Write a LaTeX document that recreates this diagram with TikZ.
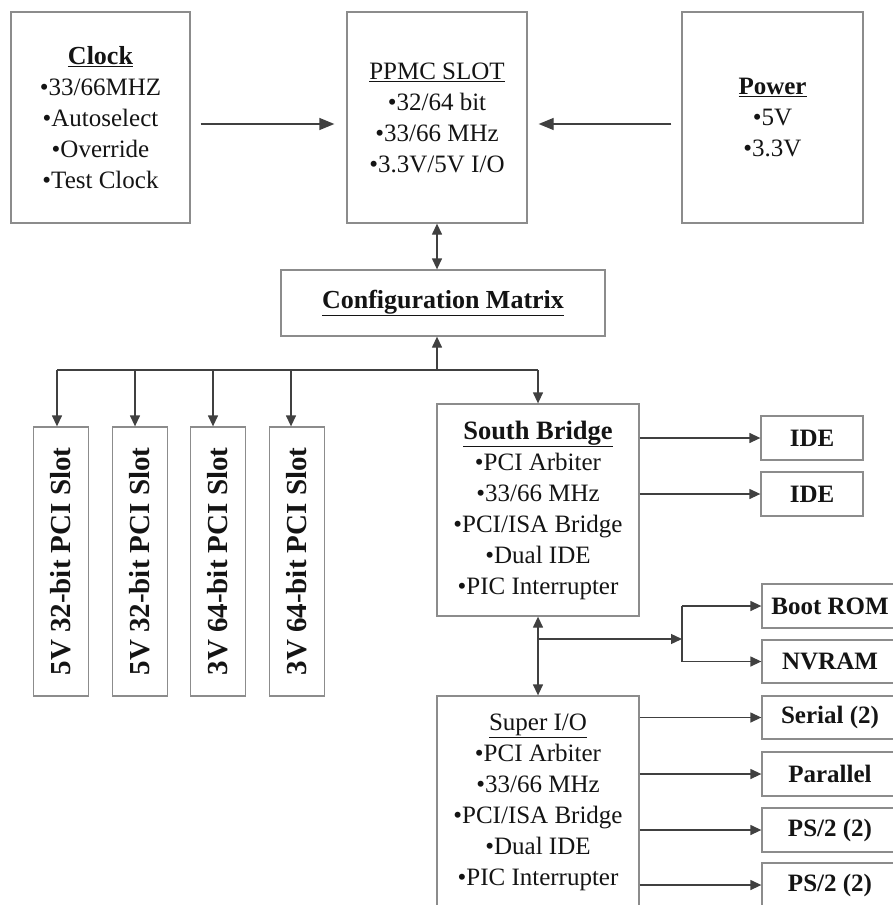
\documentclass[tikz,border=0pt]{standalone}
\usepackage{fontspec}
\setmainfont{Liberation Serif}
\usepackage{graphicx}
\usetikzlibrary{arrows.meta,calc}
\definecolor{boxgray}{gray}{0.55}
\definecolor{linegray}{gray}{0.25}
\definecolor{txt}{gray}{0.08}
\begin{document}
\begin{tikzpicture}[x=1pt,y=-1pt,
  box/.style={draw=boxgray,line width=1.3pt,inner sep=0pt,align=center,text=txt,
    font=\fontsize{25}{31}\selectfont},
  sbox/.style={box,font=\fontsize{25}{31}\selectfont\bfseries},
  conn/.style={draw=linegray,line width=1.3pt},
  arr/.style={conn,-{Triangle[length=11pt,width=10pt]}},
  arrbig/.style={conn,-{Triangle[length=15pt,width=12pt]}},
  darr/.style={conn,{Triangle[length=11pt,width=10pt]}-{Triangle[length=11pt,width=10pt]}}]
\useasboundingbox (0,0) rectangle (893,905);
\fill[white] (0,0) rectangle (893,905);
\clip (0,0) rectangle (893,905);

% top row
\node[box,minimum width=179pt,minimum height=211pt] (clock) at (100.5,117.5)
  {\underline{\textbf{\fontsize{26}{31}\selectfont Clock}}\\•33/66MHZ\\•Autoselect\\•Override\\•Test Clock};
\node[box,minimum width=180pt,minimum height=211pt] (ppmc) at (437,117.5)
  {\underline{PPMC SLOT}\\•32/64 bit\\•33/66 MHz\\•3.3V/5V I/O};
\node[box,minimum width=181pt,minimum height=211pt] (power) at (772.5,117.5)
  {\underline{\textbf{Power}}\\•5V\\•3.3V};

% configuration matrix
\node[sbox,minimum width=324pt,minimum height=66pt,font=\fontsize{26}{31}\selectfont\bfseries] (config) at (443,303)
  {\underline{Configuration Matrix}};

% PCI slots
\foreach \n/\x/\t in {s1/61/5V 32-bit PCI Slot,s2/140/5V 32-bit PCI Slot,
                      s3/218/3V 64-bit PCI Slot,s4/297/3V 64-bit PCI Slot}{
  \node[box,minimum width=55pt,minimum height=269pt,
        font=\fontsize{29}{31}\selectfont\bfseries] (\n) at (\x,561.5)
    {\rotatebox{90}{\t}};
}

% south bridge and super I/O
\node[box,minimum width=202pt,minimum height=212pt] (sb) at (538,510)
  {\underline{\textbf{\fontsize{26.5}{31}\selectfont South Bridge}}\\•PCI Arbiter\\•33/66 MHz\\•PCI/ISA Bridge\\•Dual IDE\\•PIC Interrupter};
\node[box,minimum width=202pt,minimum height=212pt] (sio) at (538,802)
  {\underline{Super I/O}\\•PCI Arbiter\\•33/66 MHz\\•PCI/ISA Bridge\\•Dual IDE\\•PIC Interrupter};

% right-hand small boxes
\node[sbox,minimum width=102pt,minimum height=44pt] (ide1) at (812,438) {IDE};
\node[sbox,minimum width=102pt,minimum height=44pt] (ide2) at (812,494) {IDE};
\node[sbox,minimum width=136pt,minimum height=44pt] (boot) at (830,606) {Boot ROM};
\node[sbox,minimum width=136pt,minimum height=43pt] (nvram) at (830,661.5) {NVRAM};
\node[sbox,minimum width=136pt,minimum height=43pt] (serial) at (830,717.5) {Serial (2)};
\node[sbox,minimum width=136pt,minimum height=44pt] (par) at (830,774) {Parallel};
\node[sbox,minimum width=136pt,minimum height=44pt] (ps2a) at (830,830) {PS/2 (2)};
\node[sbox,minimum width=136pt,minimum height=44pt] (ps2b) at (830,885) {PS/2 (2)};

% top connectors
\draw[arrbig,shorten <=10pt,shorten >=12pt] ([yshift=-6.5pt]clock.east) -- ([yshift=-6.5pt]ppmc.west);
\draw[arrbig,shorten <=10pt,shorten >=11pt] ([yshift=-6.5pt]power.west) -- ([yshift=-6.5pt]ppmc.east);
\draw[darr] (ppmc.south) -- (ppmc.south |- config.north);

% bus below configuration matrix
\coordinate (bus) at (437,370);
\coordinate (b1) at (57,370);
\coordinate (b2) at (135,370);
\coordinate (b3) at (213,370);
\coordinate (b4) at (291,370);
\coordinate (b5) at (538,370);
\draw[conn] (b1) -- (b5);
\draw[arr] (bus) -- (bus |- config.south);
\draw[arr] (b1) -- (b1 |- s1.north);
\draw[arr] (b2) -- (b2 |- s2.north);
\draw[arr] (b3) -- (b3 |- s3.north);
\draw[arr] (b4) -- (b4 |- s4.north);
\draw[arr] (b5) -- (sb.north);

% south bridge outputs
\draw[arr] (sb.east |- ide1) -- (ide1.west);
\draw[arr] (sb.east |- ide2) -- (ide2.west);
\draw[darr] (sb.south) -- (sio.north);
\coordinate (split) at (682,639);
\draw[arr] (sb.south |- split) -- (split);
\draw[conn] (split |- boot) -- (split |- nvram);
\draw[arr] (split |- boot) -- (boot.west);
\draw[arr] (split |- nvram) -- (nvram.west);

% super I/O outputs
\draw[arr] (sio.east |- serial) -- (serial.west);
\draw[arr] (sio.east |- par) -- (par.west);
\draw[arr] (sio.east |- ps2a) -- (ps2a.west);
\draw[arr] (sio.east |- ps2b) -- (ps2b.west);
\end{tikzpicture}
\end{document}
